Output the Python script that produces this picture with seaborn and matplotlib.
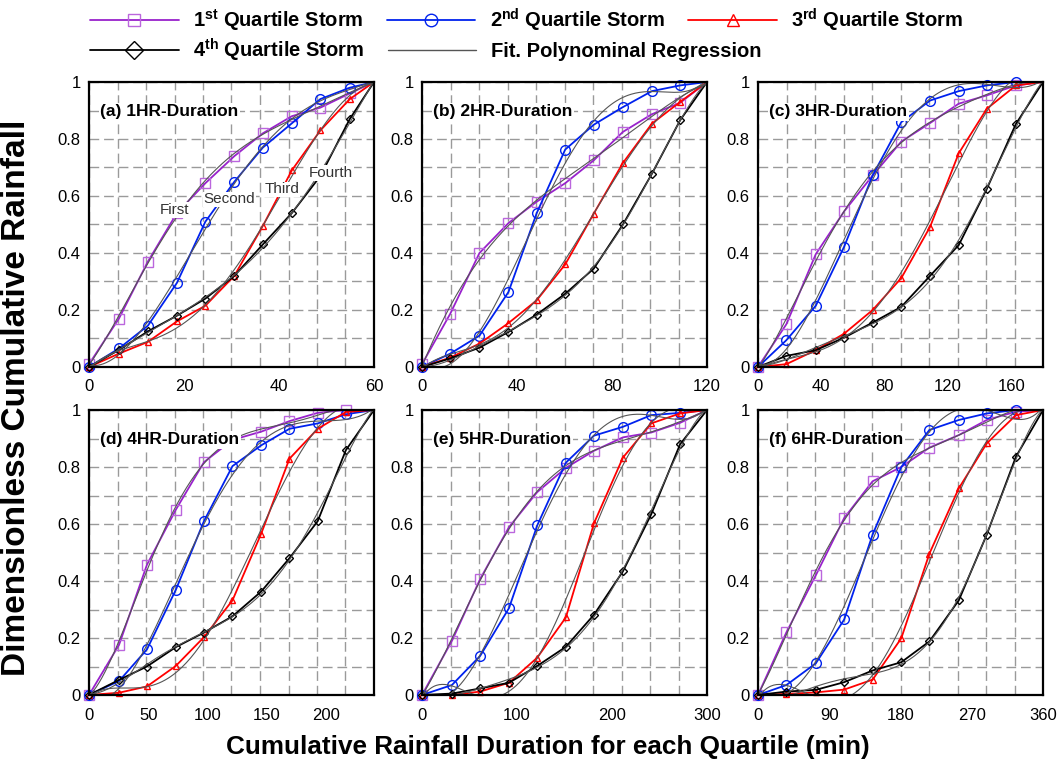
import numpy as np
import matplotlib
matplotlib.use("Agg")
import matplotlib.pyplot as plt
from matplotlib.lines import Line2D
from matplotlib.ticker import MultipleLocator, FixedLocator, FixedFormatter
import seaborn as sns

# ---------------- data ----------------
titles = ["(a) 1HR-Duration", "(b) 2HR-Duration", "(c) 3HR-Duration",
          "(d) 4HR-Duration", "(e) 5HR-Duration", "(f) 6HR-Duration"]
durations = [60, 120, 180, 240, 300, 360]
xtick_labels = [[0, 20, 40, 60], [0, 40, 80, 120], [0, 40, 80, 120, 160],
                [0, 50, 100, 150, 200], [0, 100, 200, 300], [0, 90, 180, 270, 360]]

x_a = [0, 6.3, 12.4, 18.5, 24.5, 30.6, 36.6, 42.7, 48.7, 54.9, 60]
x_b = [0, 11.9, 24.2, 36.4, 48.3, 60.3, 72.3, 84.6, 96.8, 108.7, 120]
x_c = [0, 17.9, 36.5, 54.4, 72.4, 90.5, 108.7, 126.8, 144.5, 162.9, 180]
x_d = [0, 25.3, 48.8, 73.1, 96.8, 120.8, 145, 168.8, 192.6, 216.3, 240]
x_e = [0, 31.5, 61.2, 91.6, 121.3, 151.4, 181.1, 211.5, 241.3, 271.7, 300]
x_f = [0, 35.9, 73, 108.9, 144.8, 181, 216.5, 253.6, 289, 325.8, 360]

q1_a = [0.01, 0.17, 0.37, 0.54, 0.645, 0.74, 0.82, 0.88, 0.91, 0.96, 1.0]
q2_a = [0.0, 0.065, 0.145, 0.295, 0.51, 0.65, 0.77, 0.855, 0.94, 0.98, 1.0]
q3_a = [0.0, 0.047, 0.088, 0.16, 0.215, 0.32, 0.495, 0.69, 0.83, 0.94, 1.0]
q4_a = [0.0, 0.06, 0.125, 0.18, 0.24, 0.32, 0.43, 0.54, 0.67, 0.87, 1.0]

q1_b = [0.01, 0.187, 0.40, 0.505, 0.58, 0.645, 0.725, 0.825, 0.887, 0.927, 1.0]
q2_b = [0.0, 0.047, 0.11, 0.263, 0.54, 0.763, 0.85, 0.912, 0.968, 0.988, 1.0]
q3_b = [0.0, 0.033, 0.082, 0.154, 0.234, 0.36, 0.538, 0.716, 0.854, 0.93, 1.0]
q4_b = [0.0, 0.03, 0.068, 0.123, 0.184, 0.257, 0.345, 0.50, 0.678, 0.866, 1.0]

q1_c = [0.0, 0.15, 0.396, 0.546, 0.672, 0.791, 0.856, 0.924, 0.953, 0.988, 1.0]
q2_c = [0.0, 0.094, 0.215, 0.422, 0.672, 0.859, 0.935, 0.968, 0.988, 1.0, 1.0]
q3_c = [0.0, 0.01, 0.059, 0.117, 0.2, 0.312, 0.492, 0.75, 0.906, 0.988, 1.0]
q4_c = [0.0, 0.039, 0.059, 0.103, 0.156, 0.211, 0.32, 0.428, 0.625, 0.853, 1.0]

q1_d = [0.0, 0.176, 0.457, 0.65, 0.817, 0.895, 0.924, 0.961, 0.99, 1.0, 1.0]
q2_d = [0.0, 0.049, 0.16, 0.369, 0.61, 0.803, 0.876, 0.934, 0.953, 0.985, 1.0]
q3_d = [0.0, 0.008, 0.03, 0.102, 0.203, 0.332, 0.566, 0.829, 0.934, 0.993, 1.0]
q4_d = [0.0, 0.053, 0.10, 0.168, 0.219, 0.276, 0.363, 0.48, 0.61, 0.859, 1.0]

q1_e = [0.0, 0.19, 0.407, 0.589, 0.712, 0.797, 0.857, 0.904, 0.921, 0.955, 1.0]
q2_e = [0.0, 0.035, 0.137, 0.305, 0.595, 0.815, 0.91, 0.941, 0.982, 0.99, 1.0]
q3_e = [0.0, 0.0, 0.012, 0.043, 0.131, 0.272, 0.603, 0.833, 0.953, 0.988, 1.0]
q4_e = [0.0, 0.005, 0.023, 0.043, 0.102, 0.169, 0.282, 0.434, 0.634, 0.88, 1.0]

q1_f = [0.0, 0.22, 0.42, 0.621, 0.75, 0.80, 0.868, 0.912, 0.965, 0.994, 1.0]
q2_f = [0.0, 0.035, 0.111, 0.265, 0.563, 0.80, 0.93, 0.965, 0.988, 1.0, 1.0]
q3_f = [0.0, 0.004, 0.009, 0.019, 0.054, 0.199, 0.496, 0.725, 0.883, 0.982, 1.0]
q4_f = [0.0, 0.012, 0.018, 0.045, 0.086, 0.115, 0.188, 0.332, 0.563, 0.836, 1.0]

xs = [x_a, x_b, x_c, x_d, x_e, x_f]
series = [[q1_a, q2_a, q3_a, q4_a], [q1_b, q2_b, q3_b, q4_b], [q1_c, q2_c, q3_c, q4_c],
          [q1_d, q2_d, q3_d, q4_d], [q1_e, q2_e, q3_e, q4_e], [q1_f, q2_f, q3_f, q4_f]]

legend_labels = [r"1$^{\mathbf{st}}$ Quartile Storm", r"2$^{\mathbf{nd}}$ Quartile Storm",
                 r"3$^{\mathbf{rd}}$ Quartile Storm", r"4$^{\mathbf{th}}$ Quartile Storm",
                 "Fit. Polynominal Regression"]
curve_names = ["First", "Second", "Third", "Fourth"]
curve_name_x = [18.0, 29.5, 40.6, 51.0]
curve_name_y = [0.55, 0.588, 0.623, 0.68]

# ---------------- style ----------------
sns.set_style("white")
plt.rcParams["font.family"] = ["Liberation Sans", "DejaVu Sans"]
plt.rcParams["mathtext.fontset"] = "custom"
plt.rcParams["mathtext.rm"] = "Liberation Sans"
plt.rcParams["mathtext.bf"] = "Liberation Sans:bold"
plt.rcParams["text.color"] = "black"
plt.rcParams["axes.labelcolor"] = "black"
plt.rcParams["xtick.color"] = "black"
plt.rcParams["ytick.color"] = "black"

line_colors = ["#9922CC", "#0022EE", "#FF0000", "#000000"]
marker_colors = ["#BB66DD", "#0022EE", "#FF0000", "#000000"]
markers = ["s", "o", "^", "D"]
msizes = [7, 7, 5, 4]
fit_color = "#555555"

fig = plt.figure(figsize=(10.61, 7.62), dpi=100)
W, H = 1061, 762
col_left = [89, 422, 758]
row_top = [82, 410]
aw, ah = 285, 285

for i in range(6):
    r, c = divmod(i, 3)
    left = col_left[c] / W
    bottom = 1 - (row_top[r] + ah) / H
    ax = fig.add_axes([left, bottom, aw / W, ah / H])
    D = durations[i]
    x = np.array(xs[i])
    for k in range(4):
        y = np.array(series[i][k])
        sns.lineplot(x=x, y=y, ax=ax, color=line_colors[k], lw=1.3, sort=False,
                     estimator=None, marker=markers[k], markersize=msizes[k],
                     markerfacecolor="none", markeredgecolor=marker_colors[k],
                     markeredgewidth=1.0, markevery=list(range(len(x) - 1)),
                     zorder=3, clip_on=False)
        coef = np.polyfit(x, y, 5)
        xf = np.linspace(0, D, 200)
        yf = np.clip(np.polyval(coef, xf), 0, 1)
        sns.lineplot(x=xf, y=yf, ax=ax, color=fit_color, lw=0.8, sort=False,
                     estimator=None, zorder=4)
    ax.set_xlim(0, D)
    ax.set_ylim(0, 1)
    ax.xaxis.remove_overlapping_locs = False
    ax.yaxis.remove_overlapping_locs = False
    ax.xaxis.set_major_locator(FixedLocator(xtick_labels[i]))
    ax.xaxis.set_major_formatter(FixedFormatter([str(v) for v in xtick_labels[i]]))
    ax.yaxis.set_major_locator(FixedLocator([0, 0.2, 0.4, 0.6, 0.8, 1.0]))
    ax.yaxis.set_major_formatter(FixedFormatter(["0", "0.2", "0.4", "0.6", "0.8", "1"]))
    ax.xaxis.set_minor_locator(MultipleLocator(D / 10))
    ax.yaxis.set_minor_locator(MultipleLocator(0.1))
    ax.grid(False, which="major")
    ax.grid(True, which="minor", color="#9a9a9a", linestyle=(0, (7, 3.5)), lw=1.0)
    ax.tick_params(which="both", length=0, labelcolor="black")
    ax.tick_params(axis="x", which="major", pad=9, labelsize=12)
    ax.tick_params(axis="y", which="major", pad=6, labelsize=12)
    for sp in ax.spines.values():
        sp.set_visible(True)
        sp.set_color("black")
        sp.set_linewidth(1.6)
        sp.set_zorder(5)
    ax.set_xlabel("")
    ax.set_ylabel("")
    ax.text(0.04, 0.895, titles[i], transform=ax.transAxes, fontsize=12.5,
            fontweight="bold", ha="left", va="center", zorder=6, color="black",
            bbox=dict(facecolor="white", edgecolor="none", pad=1.0))
    if i == 0:
        for name, tx, ty in zip(curve_names, curve_name_x, curve_name_y):
            ax.text(tx, ty, name, fontsize=11, color="#333333", ha="center",
                    va="center", zorder=6,
                    bbox=dict(facecolor="white", edgecolor="none", pad=0.5))

# ---------------- legend ----------------
handles = []
for k in range(4):
    handles.append(Line2D([0], [0], color=line_colors[k], lw=1.3, marker=markers[k],
                          markersize=9, markerfacecolor="none",
                          markeredgecolor=marker_colors[k], markeredgewidth=1.0))
handles.append(Line2D([0], [0], color=fit_color, lw=1.0))

leg_kw = dict(loc="center left", frameon=False, borderpad=0, borderaxespad=0,
              handlelength=4.4, handletextpad=0.72, columnspacing=1.15,
              labelcolor="black", prop={"weight": "bold", "size": 14.5})
fig.legend(handles=handles[:3], labels=legend_labels[:3], ncol=3,
           bbox_to_anchor=(90 / W, 1 - 20 / H), **leg_kw)
fig.legend(handles=handles[3:], labels=legend_labels[3:], ncol=2,
           bbox_to_anchor=(90 / W, 1 - 50 / H), **leg_kw)

fig.text(17 / W, 1 - 398 / H, "Dimensionless Cumulative Rainfall", rotation=90,
         fontsize=24, fontweight="bold", ha="center", va="center", color="black")
fig.text(548 / W, 1 - 747 / H, "Cumulative Rainfall Duration for each Quartile (min)",
         fontsize=18.8, fontweight="bold", ha="center", va="center", color="black")

fig.savefig("out.png", dpi=100)
